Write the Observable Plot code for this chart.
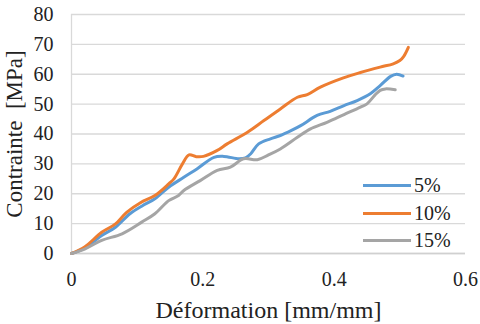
<!DOCTYPE html>
<html><head><meta charset="utf-8">
<script src="https://cdn.jsdelivr.net/npm/d3@7"></script>
<script src="https://cdn.jsdelivr.net/npm/@observablehq/plot@0.6"></script>
<style>
html,body{margin:0;padding:0;background:#fff;}
#wrap{position:relative;width:480px;height:324px;font-family:"Liberation Serif","Times New Roman",serif;}
#wrap svg, #wrap svg text{font-family:"Liberation Serif","Times New Roman",serif !important;font-variant:normal !important;}
#wrap svg g[aria-label$="tick label"] text{font-size:20px !important;}
#legend{position:absolute;left:363px;top:172px;font-size:20px;color:#222;font-family:"Liberation Serif","Times New Roman",serif;}
#legend .row{display:flex;align-items:center;height:27.5px;}
#legend .sw{width:48px;height:3px;margin-right:3px;}
</style>
</head><body>
<div id="wrap"><div id="legend"></div></div>
<script>
const seriesNames = ["5%", "10%", "15%"];
const colors = ["#5B9BD5", "#ED7D31", "#A5A5A5"];
const xTicks = [0, 0.2, 0.4, 0.6];
const yTicks = [0, 10, 20, 30, 40, 50, 60, 70, 80];
const xLabel = "Déformation [mm/mm]";
const yLabel = "Contrainte  [MPa]";

const s5 = [
  [0,0],[0.02,1.8],[0.046,6],[0.067,8.8],[0.089,13.3],[0.108,16],[0.127,18.3],[0.148,22.2],
  [0.171,25.5],[0.191,28.3],[0.217,32.2],[0.232,32.5],[0.255,31.7],[0.265,32],[0.273,33.4],
  [0.285,36.7],[0.303,38.4],[0.318,39.5],[0.335,41.2],[0.349,42.8],[0.374,46.2],[0.394,47.6],
  [0.415,49.5],[0.435,51.2],[0.455,53.5],[0.47,56.2],[0.486,59.3],[0.495,60],[0.505,59.4]
];
const s10 = [
  [0,0],[0.02,2.2],[0.046,7.1],[0.067,9.9],[0.084,13.8],[0.105,17],[0.127,19.4],[0.148,23.3],
  [0.156,25],[0.169,30],[0.179,33],[0.19,32.4],[0.201,32.5],[0.222,34.5],[0.237,36.7],
  [0.268,40.6],[0.293,44.5],[0.318,48.4],[0.344,52.3],[0.359,53.2],[0.379,55.7],[0.414,58.8],
  [0.44,60.6],[0.47,62.4],[0.49,63.5],[0.5,64.6],[0.506,66],[0.513,69]
];
const s15 = [
  [0,0],[0.02,1.5],[0.046,4.4],[0.077,6.6],[0.107,10.5],[0.127,13.3],[0.148,17.7],[0.163,19.4],
  [0.171,21.1],[0.196,24.4],[0.222,27.8],[0.242,28.9],[0.262,31.7],[0.283,31.4],[0.3,33],
  [0.318,35],[0.344,38.9],[0.364,41.7],[0.389,43.9],[0.415,46.5],[0.44,49],[0.45,50.1],
  [0.462,53],[0.47,54.6],[0.478,55.1],[0.493,54.8]
];
const allSeries = [s5, s10, s15];

const data = allSeries.flatMap((s, i) => s.map(([x, y]) => ({x, y, series: seriesNames[i]})));
const serif = "'Liberation Serif', 'Times New Roman', serif";

const chart = Plot.plot({
  width: 480, height: 324,
  marginLeft: 71, marginRight: 15, marginTop: 14, marginBottom: 71,
  style: {fontFamily: serif, fontSize: "20px", color: "#222", background: "transparent"},
  x: {domain: [0, 0.6], ticks: xTicks, tickFormat: d => String(d)},
  y: {domain: [0, 80], ticks: yTicks},
  color: {domain: seriesNames, range: colors},
  marks: [
    Plot.gridY(yTicks, {stroke: "#d9d9d9", strokeOpacity: 1, strokeWidth: 1.3}),
    Plot.ruleX([0], {stroke: "#d9d9d9", strokeWidth: 1.3}),
    Plot.ruleY([0], {stroke: "#d0d0d0", strokeWidth: 1.3}),
    Plot.axisY(yTicks, {tickSize: 0, tickPadding: 18, label: null, fontSize: 20, fontFamily: serif}),
    Plot.axisX(xTicks, {tickSize: 0, tickPadding: 18, label: null, fontSize: 20, fontFamily: serif, tickFormat: d => String(d)}),
    Plot.line(data, {x: "x", y: "y", stroke: "series", strokeWidth: 3, curve: "catmull-rom"}),
    Plot.text([xLabel], {frameAnchor: "bottom", textAnchor: "middle", lineAnchor: "middle", dy: 56.5, fontSize: 24, fontFamily: serif, fill: "#222"}),
    Plot.text([yLabel], {frameAnchor: "left", textAnchor: "middle", lineAnchor: "middle", dx: -57, rotate: -90, fontSize: 23, fontFamily: serif, fill: "#222"})
  ]
});
document.getElementById("wrap").prepend(chart);

const legend = document.getElementById("legend");
seriesNames.forEach((n, i) => {
  const row = document.createElement("div");
  row.className = "row";
  row.innerHTML = `<div class="sw" style="background:${colors[i]}"></div><span>${n}</span>`;
  legend.appendChild(row);
});
</script>
</body></html>
